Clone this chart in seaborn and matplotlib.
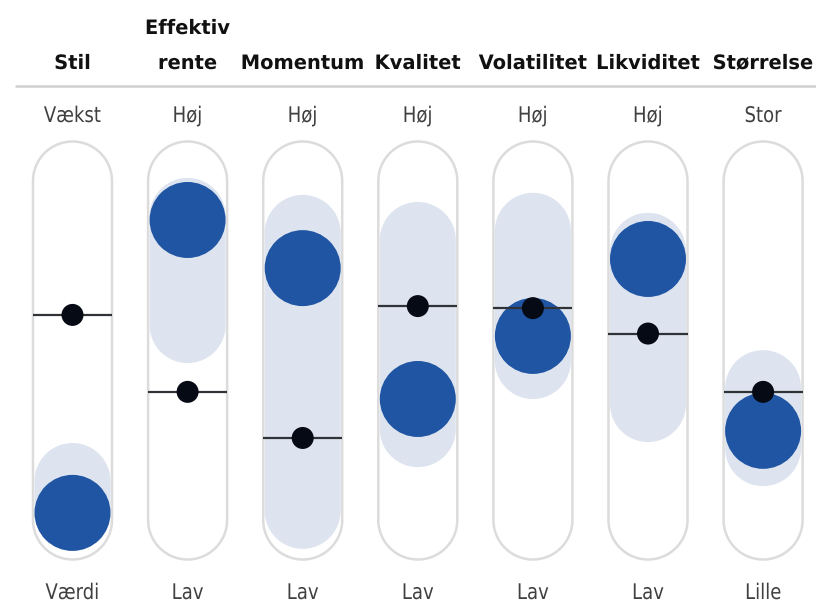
import matplotlib
matplotlib.use("Agg")
import matplotlib.pyplot as plt
import seaborn as sns
import numpy as np
import pandas as pd
from matplotlib.patches import Polygon
from matplotlib.patheffects import AbstractPathEffect
from matplotlib.transforms import Affine2D

sns.set_theme(style="white")
plt.rcParams["font.family"] = ["DejaVu Sans"]

# ---- data (0 = bottom of scale, 100 = top) ----
headers = ["Stil", "Effektiv\nrente", "Momentum", "Kvalitet", "Volatilitet", "Likviditet", "Størrelse"]
top_labels = ["Vækst", "Høj", "Høj", "Høj", "Høj", "Høj", "Stor"]
bottom_labels = ["Værdi", "Lav", "Lav", "Lav", "Lav", "Lav", "Lille"]
fund_value = [2.1, 88.5, 74.3, 35.7, 54.3, 77.0, 26.3]      # big blue circle
index_value = [60.5, 37.8, 24.2, 63.1, 62.5, 55.0, 37.8]    # black dot
range_high = [11.5, 89.7, 84.7, 82.6, 85.3, 79.4, 38.9]     # shaded range top
range_low = [2.1, 57.5, 2.7, 26.8, 46.9, 34.2, 21.2]        # shaded range bottom

df = pd.DataFrame({"col": np.arange(len(headers)), "fund": fund_value, "index": index_value,
                   "hi": range_high, "lo": range_low})


class HScale(AbstractPathEffect):
    """Horizontally condense text glyphs about the text centre."""
    def __init__(self, sx):
        super().__init__()
        self.sx = sx

    def draw_path(self, renderer, gc, tpath, affine, rgbFace=None):
        verts = affine.transform(tpath.vertices)
        if len(verts) == 0:
            return
        cx = 0.5 * (verts[:, 0].min() + verts[:, 0].max())
        t = affine + Affine2D().translate(-cx, 0).scale(self.sx, 1).translate(cx, 0)
        renderer.draw_path(gc, tpath, t, rgbFace)


W, H = 816, 603
fig = plt.figure(figsize=(W / 100, H / 100), dpi=100)
ax = fig.add_axes([0, 0, 1, 1])

X0, PITCH = 72.5, 115.1
YTOP, PXV = 181.0, 3.39
xmin = -X0 / PITCH
xmax = (W - X0) / PITCH
vmin = 100 - (H - YTOP) / PXV
vmax = 100 + YTOP / PXV


def capsule(xc, v_top, v_bot, r_px, **kw):
    rx = r_px / PITCH
    ry = r_px / PXV
    t1 = np.linspace(0, np.pi, 60)
    top = np.column_stack([xc + rx * np.cos(t1), v_top + ry * np.sin(t1)])
    t2 = np.linspace(np.pi, 2 * np.pi, 60)
    bot = np.column_stack([xc + rx * np.cos(t2), v_bot + ry * np.sin(t2)])
    p = Polygon(np.vstack([top, bot]), closed=True, **kw)
    ax.add_patch(p)
    return p


PILL_R = 39.5
INNER_R = 38.0
for i, row in df.iterrows():
    x = row["col"]
    capsule(x, 100, 0, PILL_R, facecolor="white", edgecolor="#dcdcdc", linewidth=1.8, zorder=1)
    capsule(x, row["hi"], row["lo"], INNER_R, facecolor="#dde4ef", edgecolor="none", zorder=2)
    ax.plot([x - PILL_R / PITCH, x + PILL_R / PITCH], [row["index"], row["index"]],
            color="#2f3338", linewidth=1.6, zorder=4, solid_capstyle="butt")

circ_d_pt = 2 * INNER_R * 72 / 100
sns.scatterplot(data=df, x="col", y="fund", s=circ_d_pt ** 2, color="#1f55a3",
                edgecolor="none", linewidth=0, ax=ax, zorder=3, legend=False)
dot_d_pt = 22 * 72 / 100
sns.scatterplot(data=df, x="col", y="index", s=dot_d_pt ** 2, color="#050a14",
                edgecolor="none", linewidth=0, ax=ax, zorder=5, legend=False)
ax.set_xlim(xmin, xmax)
ax.set_ylim(vmin, vmax)
ax.axis("off")


def v_of_px(y_px):
    return 100 - (y_px - YTOP) / PXV


ax.plot([16 / W * (xmax - xmin) + xmin, xmax], [v_of_px(86), v_of_px(86)],
        color="#d0d0d0", linewidth=1.8, zorder=1)

hdr_fx = [HScale(0.98)]
lbl_fx = [HScale(0.84)]
for i in range(len(headers)):
    lines = headers[i].split("\n")
    for k, line in enumerate(reversed(lines)):
        ax.text(i, v_of_px(69 - 35 * k), line, ha="center", va="baseline", fontsize=14.3,
                fontweight="bold", color="#111111", path_effects=hdr_fx)
    ax.text(i, v_of_px(122), top_labels[i], ha="center", va="baseline", fontsize=15.5,
            color="#404040", path_effects=lbl_fx)
    ax.text(i, v_of_px(599), bottom_labels[i], ha="center", va="baseline", fontsize=15.5,
            color="#404040", path_effects=lbl_fx)

fig.savefig("out.png", dpi=100)
